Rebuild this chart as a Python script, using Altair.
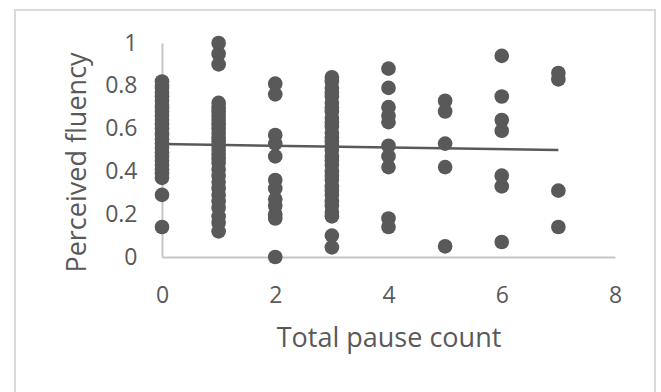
import altair as alt
import pandas as pd

# Perceived fluency ratings grouped by total pause count
pause_0 = [0.82, 0.80, 0.79, 0.77, 0.75, 0.73, 0.71, 0.70, 0.68, 0.66, 0.64, 0.62,
           0.60, 0.58, 0.57, 0.55, 0.53, 0.51, 0.49, 0.47, 0.45, 0.43, 0.41, 0.39,
           0.37, 0.29, 0.14]
pause_1 = [1.00, 0.95, 0.90, 0.72, 0.70, 0.68, 0.66, 0.64, 0.62, 0.60, 0.58, 0.56,
           0.54, 0.52, 0.50, 0.48, 0.46, 0.44, 0.41, 0.38, 0.35, 0.32, 0.29, 0.26,
           0.23, 0.19, 0.16, 0.12]
pause_2 = [0.81, 0.76, 0.57, 0.53, 0.47, 0.36, 0.32, 0.27, 0.24, 0.20, 0.18, 0.00]
pause_3 = [0.84, 0.82, 0.79, 0.77, 0.75, 0.72, 0.70, 0.68, 0.65, 0.63, 0.61, 0.58,
           0.56, 0.54, 0.52, 0.50, 0.47, 0.45, 0.43, 0.40, 0.38, 0.36, 0.33, 0.31,
           0.29, 0.26, 0.24, 0.21, 0.19, 0.10, 0.045]
pause_4 = [0.88, 0.79, 0.70, 0.66, 0.63, 0.52, 0.47, 0.42, 0.18, 0.14]
pause_5 = [0.73, 0.68, 0.53, 0.42, 0.05]
pause_6 = [0.94, 0.75, 0.64, 0.59, 0.38, 0.33, 0.07]
pause_7 = [0.86, 0.83, 0.31, 0.14]

groups = [pause_0, pause_1, pause_2, pause_3, pause_4, pause_5, pause_6, pause_7]

# Linear trend line end points
trend_x = [0, 7]
trend_y = [0.528, 0.500]

rows = []
for count, vals in enumerate(groups):
    for v in vals:
        rows.append({"pauses": count, "fluency": v})
points = pd.DataFrame(rows)
trend = pd.DataFrame({"pauses": trend_x, "fluency": trend_y})

FONT = "Open Sans"
GREY = "#595959"

x_enc = alt.X(
    "pauses:Q",
    scale=alt.Scale(domain=[0, 8], nice=False),
    axis=alt.Axis(
        title="Total pause count",
        values=[0, 2, 4, 6, 8],
        format="d",
        grid=False,
        ticks=False,
        labelFlush=False,
        domainColor="#c6c6c6",
        domainWidth=2,
        labelFont=FONT,
        labelFontSize=23,
        labelColor=GREY,
        labelPadding=27,
        titleFont=FONT,
        titleFontSize=27,
        titleFontWeight="normal",
        titleColor=GREY,
        titleBaseline="middle",
        titleY=81,
    ),
)
y_enc = alt.Y(
    "fluency:Q",
    scale=alt.Scale(domain=[0, 1], nice=False),
    axis=alt.Axis(
        title="Perceived  fluency",
        values=[0, 0.2, 0.4, 0.6, 0.8, 1],
        format=".1~f",
        grid=False,
        ticks=False,
        labelFlush=False,
        domainColor="#c6c6c6",
        domainWidth=2,
        labelFont=FONT,
        labelFontSize=23,
        labelColor=GREY,
        labelPadding=25,
        titleFont=FONT,
        titleFontSize=27,
        titleFontWeight="normal",
        titleColor=GREY,
        titleBaseline="middle",
        titleAlign="center",
        titleX=-85,
        titleY=119,
    ),
)

frame = alt.Chart(pd.DataFrame({"k": [0]})).mark_rect(
    fill="transparent", stroke="#d9d9d9", strokeWidth=2
).encode(
    x=alt.value(-147), x2=alt.value(493), y=alt.value(-33), y2=alt.value(380)
)

dots = alt.Chart(points).mark_circle(size=215, opacity=1, color=GREY).encode(
    x=x_enc, y=y_enc
)

line = alt.Chart(trend).mark_line(color=GREY, strokeWidth=2.5).encode(
    x="pauses:Q", y="fluency:Q"
)

chart = (
    alt.layer(frame, dots, line)
    .properties(
        width=453,
        height=214,
        autosize=alt.AutoSizeParams(type="none"),
        padding={"left": 162, "top": 43, "right": 46, "bottom": 135},
        background="white",
    )
    .configure_view(stroke=None)
)

chart.save("out.html", embed_options={"renderer": "svg", "actions": False})
